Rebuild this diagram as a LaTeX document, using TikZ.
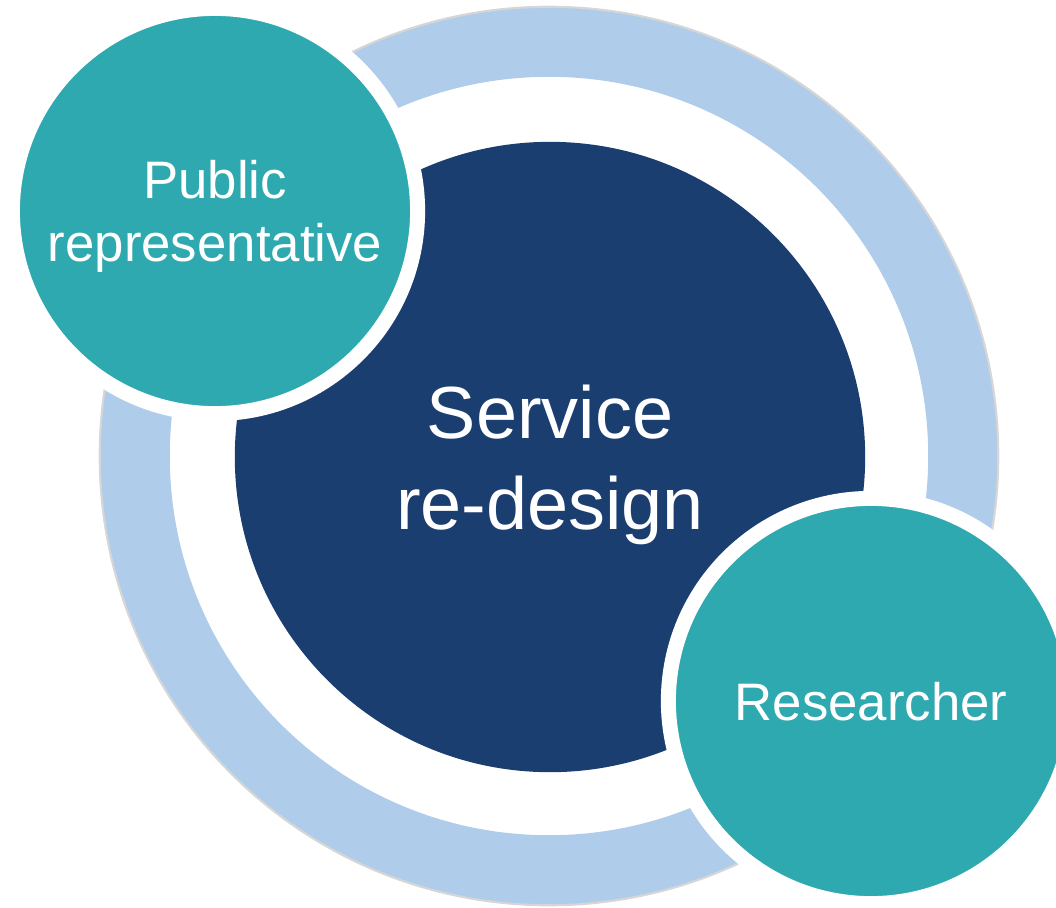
\documentclass[tikz,border=0pt]{standalone}
\usepackage{fontspec}
\setmainfont{Liberation Sans}

\definecolor{ringblue}{HTML}{AFCDEA}
\definecolor{ringedge}{HTML}{D6D6D6}
\definecolor{navyhub}{HTML}{1B3E70}
\definecolor{tealrole}{HTML}{2FA9B0}

\begin{document}
\begin{tikzpicture}[
    x=0.01cm, y=-0.01cm,
    hub/.style={circle, fill=navyhub, minimum size=6.3cm, inner sep=0pt,
      text depth=0pt, text=white, align=center,
      font=\fontsize{21}{26}\selectfont},
    role/.style={circle, fill=tealrole, draw=white, line width=0.15cm,
      minimum size=4.05cm, inner sep=0pt, text depth=0pt,
      text=white, align=center, font=\fontsize{15}{18}\selectfont}
  ]
  \useasboundingbox (0,0) rectangle (1056,908);
  \clip (0,0) rectangle (1056,908);

  % outer ring
  \fill[ringblue, even odd rule] (549,456) circle [radius=4.49cm]
                                 (549,456) circle [radius=3.79cm];
  \draw[ringedge, line width=0.6pt] (549,456) circle [radius=4.49cm];

  \node[hub] (redesign) at (550,457) {Service\\re-design};

  \node[role] (public) at (215,211) {Public\\representative};
  \node[role] (researcher) at (871,701) {Researcher};
\end{tikzpicture}
\end{document}
